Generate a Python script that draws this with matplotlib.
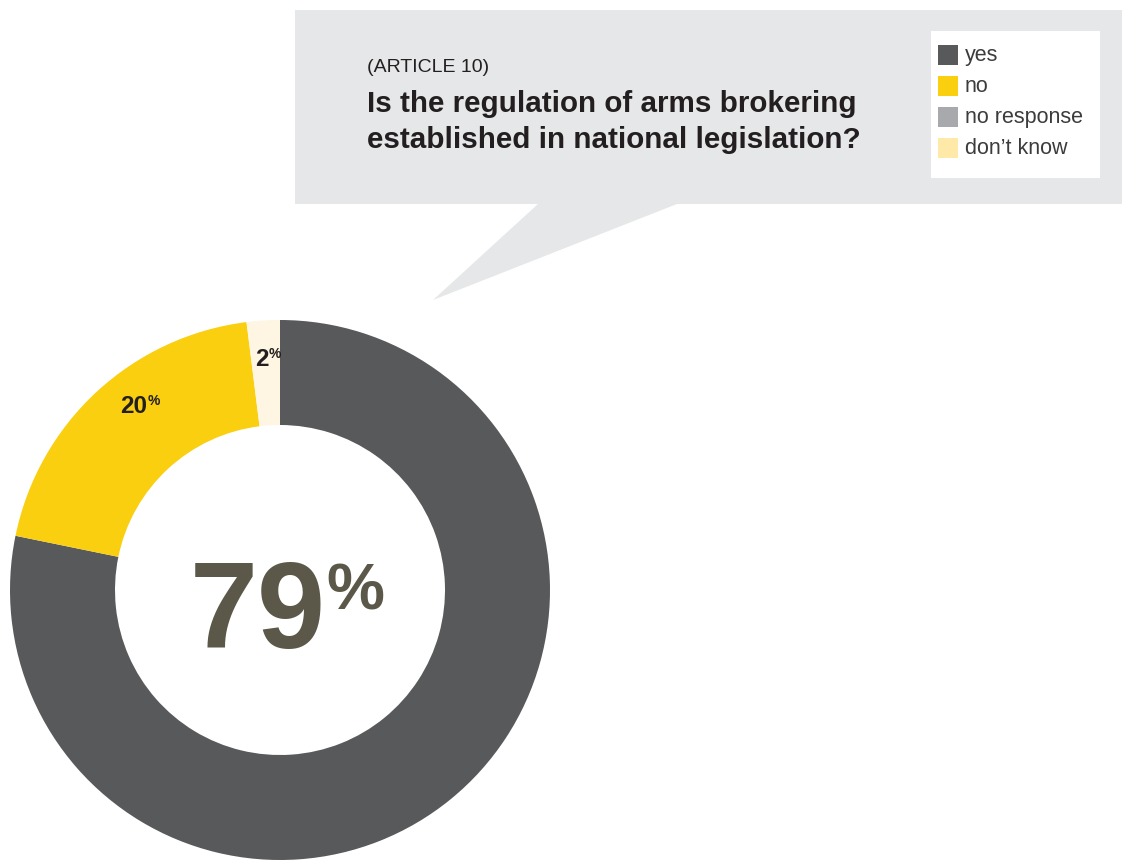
import numpy as np
import matplotlib
matplotlib.use('Agg')
import matplotlib.pyplot as plt
from matplotlib.patches import Polygon, Rectangle

plt.rcParams['font.family'] = ['Liberation Sans', 'DejaVu Sans']

## data
categories = ['yes', 'no', 'no response', "don't know"]
legend_labels = ['yes', 'no', 'no response', 'don\u2019t know']
values = [79, 20, 0, 2]
slice_colors = ['#58595B', '#FACF0F', '#A7A9AC', '#FEF5E2']
legend_colors = ['#58595B', '#FACF0F', '#A7A9AC', '#FFE9A9']
small_labels = {'no': '20', "don't know": '2'}
big_label = '79'
subtitle = '(ARTICLE 10)'
question = 'Is the regulation of arms brokering\nestablished in national legislation?'

W, H = 1122, 860
def Y(y):
    # pixel row (from top) -> data y
    return H - y

fig = plt.figure(figsize=(W / 100, H / 100), dpi=100)
ax = fig.add_axes([0, 0, 1, 1])

# donut
cx, cy, R = 280, Y(590), 270
wedges, _ = ax.pie(values, colors=slice_colors, startangle=90, counterclock=False,
                   radius=R, center=(cx, cy),
                   wedgeprops=dict(width=R - 165, linewidth=0))
ax.set_xlim(0, W)
ax.set_ylim(0, H)
ax.set_aspect('equal')
ax.axis('off')

# speech bubble
bubble = Polygon([(295, Y(10)), (W, Y(10)), (W, Y(204)), (677, Y(204)),
                  (433, Y(300)), (538, Y(204)), (295, Y(204))],
                 closed=True, facecolor='#E6E7E8', edgecolor='none', zorder=1)
ax.add_patch(bubble)
ax.text(367, Y(67), subtitle, fontsize=14, color='#231F20', va='center', ha='left', zorder=3)
ax.text(367, Y(90), question, fontsize=21.3, fontweight='bold', color='#231F20',
        va='top', ha='left', linespacing=1.36, zorder=3)

# legend box
ax.add_patch(Rectangle((931, Y(178)), 169, 147, facecolor='white', edgecolor='none', zorder=2))
for i, (lab, col) in enumerate(zip(legend_labels, legend_colors)):
    ytop = 45 + i * 31
    ax.add_patch(Rectangle((938, Y(ytop + 20)), 20, 20, facecolor=col, edgecolor='none', zorder=3))
    ax.text(965, Y(ytop + 11), lab, fontsize=15.5, color='#3C3C3E', va='center', ha='left', zorder=3)

# labels on slices
fig.canvas.draw()
renderer = fig.canvas.get_renderer()
for w, cat in zip(wedges, categories):
    if cat not in small_labels:
        continue
    ang = np.deg2rad(w.theta1 + 0.42 * (w.theta2 - w.theta1))
    lx = cx + 0.86 * R * np.cos(ang)
    ly = cy + 0.86 * R * np.sin(ang)
    t1 = ax.text(0, 0, small_labels[cat], fontsize=17.5, fontweight='bold', color='#231F20',
                 ha='left', va='baseline', zorder=4)
    t2 = ax.text(0, 0, '%', fontsize=10, fontweight='bold', color='#231F20',
                 ha='left', va='baseline', zorder=4)
    w1 = t1.get_window_extent(renderer).width
    w2 = t2.get_window_extent(renderer).width
    left = lx - (w1 + w2) / 2
    t1.set_position((left, ly - 8))
    t2.set_position((left + w1, ly))

# big centre number
ax.text(326, Y(648), big_label, fontsize=88, fontweight='bold', color='#5B5849',
        ha='right', va='baseline', zorder=4)
ax.text(326, Y(610), '%', fontsize=47, fontweight='bold', color='#5B5849',
        ha='left', va='baseline', zorder=4)

fig.savefig('out.png', dpi=100, facecolor='white')
